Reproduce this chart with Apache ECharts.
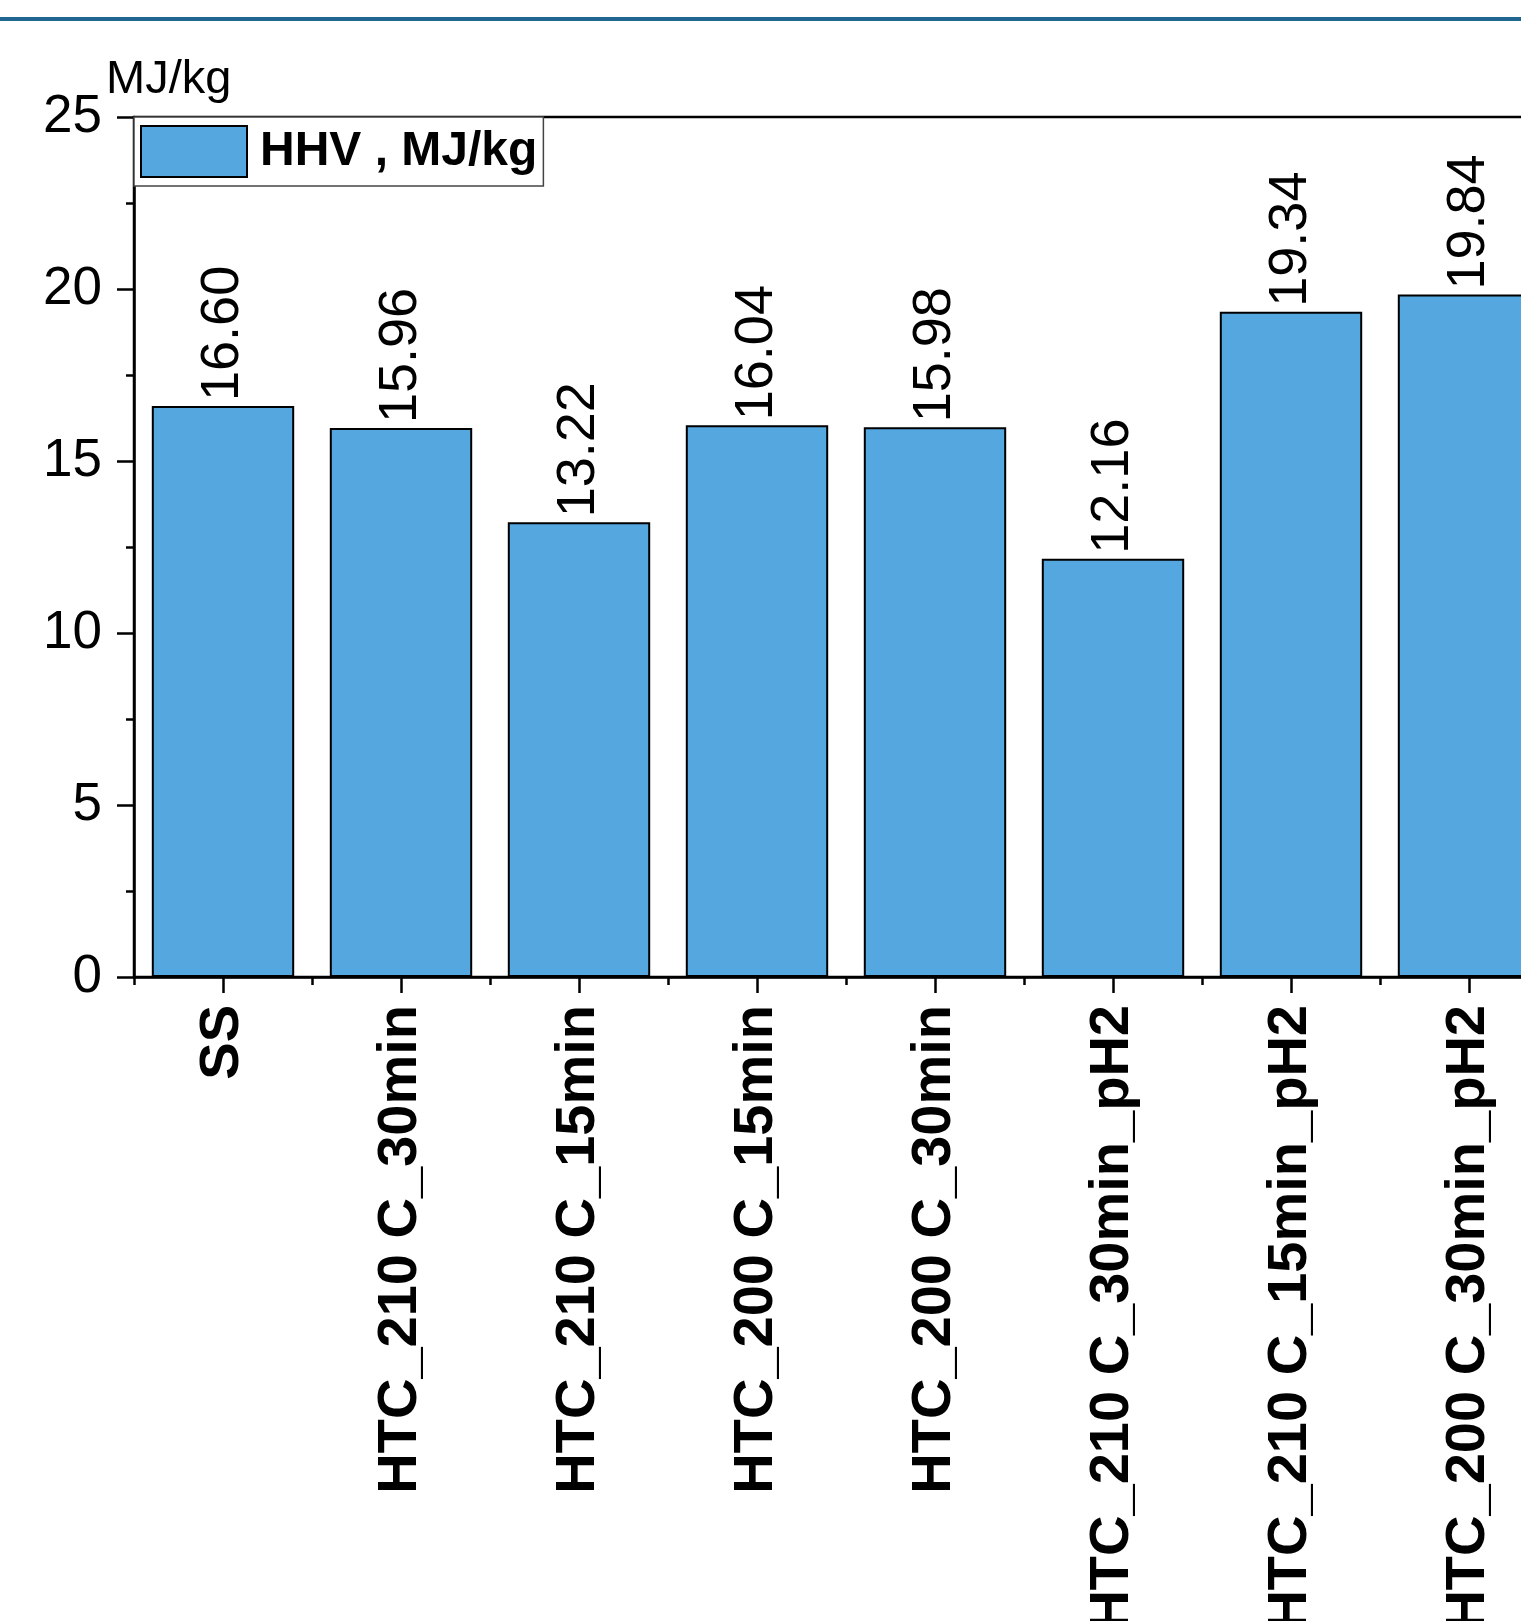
<!DOCTYPE html>
<html>
<head>
<meta charset="utf-8">
<script src="https://cdn.jsdelivr.net/npm/echarts@6/dist/echarts.min.js"></script>
<style>
html,body{margin:0;padding:0;background:#fff;overflow:hidden;}
#chart{width:1560px;height:1621px;}
</style>
</head>
<body>
<div id="chart"></div>
<script>
const categories = ['SS','HTC_210 C_30min','HTC_210 C_15min','HTC_200 C_15min','HTC_200 C_30min','HTC_210 C_30min_pH2','HTC_210 C_15min_pH2','HTC_200 C_30min_pH2'];
const hhvValues = [16.60, 15.96, 13.22, 16.04, 15.98, 12.16, 19.34, 19.84];
const seriesName = 'HHV , MJ/kg';
const unitLabel = 'MJ/kg';
const yTicks = [0, 5, 10, 15, 20, 25];

const FONT = '"Liberation Sans", Arial, sans-serif';
const chart = echarts.init(document.getElementById('chart'), null, {renderer:'canvas'});
chart.setOption({
  backgroundColor: '#fff',
  animation: false,
  title: {
    text: unitLabel, left: 101, top: 52,
    textStyle: {fontFamily: FONT, fontSize: 47, fontWeight: 'normal', color: '#000'}
  },
  graphic: [{
    type: 'rect', left: 0, top: 17, shape: {width: 1560, height: 4},
    style: {fill: '#1f6690'}, silent: true
  }],
  legend: {
    left: 134, top: 117,
    padding: [8, 6, 8, 6],
    itemWidth: 106, itemHeight: 51,
    icon: 'rect',
    backgroundColor: '#fff',
    borderColor: '#444', borderWidth: 1.5,
    textStyle: {fontFamily: FONT, fontSize: 48, fontWeight: 'bold', color: '#000', padding: [0,0,0,8]},
    data: [seriesName]
  },
  grid: {
    left: 134, top: 117, width: 1424, height: 860,
    outerBoundsMode: 'none', containLabel: false,
    show: true, borderColor: '#000', borderWidth: 2.5, backgroundColor: 'transparent'
  },
  xAxis: [{
    type: 'category', data: categories, position: 'bottom',
    axisLine: {show: true, lineStyle: {color: '#000', width: 2.5}},
    axisTick: {show: true, alignWithLabel: true, length: 16, lineStyle: {color: '#000', width: 2.5}},
    axisLabel: {
      interval: 0, rotate: 90, margin: 28, color: '#000',
      fontFamily: FONT, fontSize: 56, fontWeight: 'bold'
    },
    splitLine: {show: false}
  }, {
    type: 'category', data: categories, position: 'bottom', gridIndex: 0,
    axisLine: {show: false},
    axisTick: {show: true, alignWithLabel: false, length: 8, lineStyle: {color: '#000', width: 2.5}},
    axisLabel: {show: false},
    splitLine: {show: false}
  }],
  yAxis: {
    type: 'value', min: yTicks[0], max: yTicks[yTicks.length-1], interval: 5,
    axisLine: {show: true, lineStyle: {color: '#000', width: 2.5}},
    axisTick: {show: true, length: 17, lineStyle: {color: '#000', width: 2.5}},
    minorTick: {show: true, splitNumber: 2, length: 8, lineStyle: {color: '#000', width: 2.5}},
    axisLabel: {margin: 32, color: '#000', fontFamily: FONT, fontSize: 53},
    splitLine: {show: false}
  },
  series: [{
    name: seriesName, type: 'bar', data: hhvValues, xAxisIndex: 0,
    barCategoryGap: '20%',
    itemStyle: {color: '#55a7e0', borderColor: '#000', borderWidth: 2},
    label: {
      show: true, position: 'top', rotate: 90, align: 'left', verticalAlign: 'middle',
      distance: 5, color: '#000', fontFamily: FONT, fontSize: 54,
      formatter: p => p.value.toFixed(2)
    }
  }]
});
</script>
</body>
</html>
